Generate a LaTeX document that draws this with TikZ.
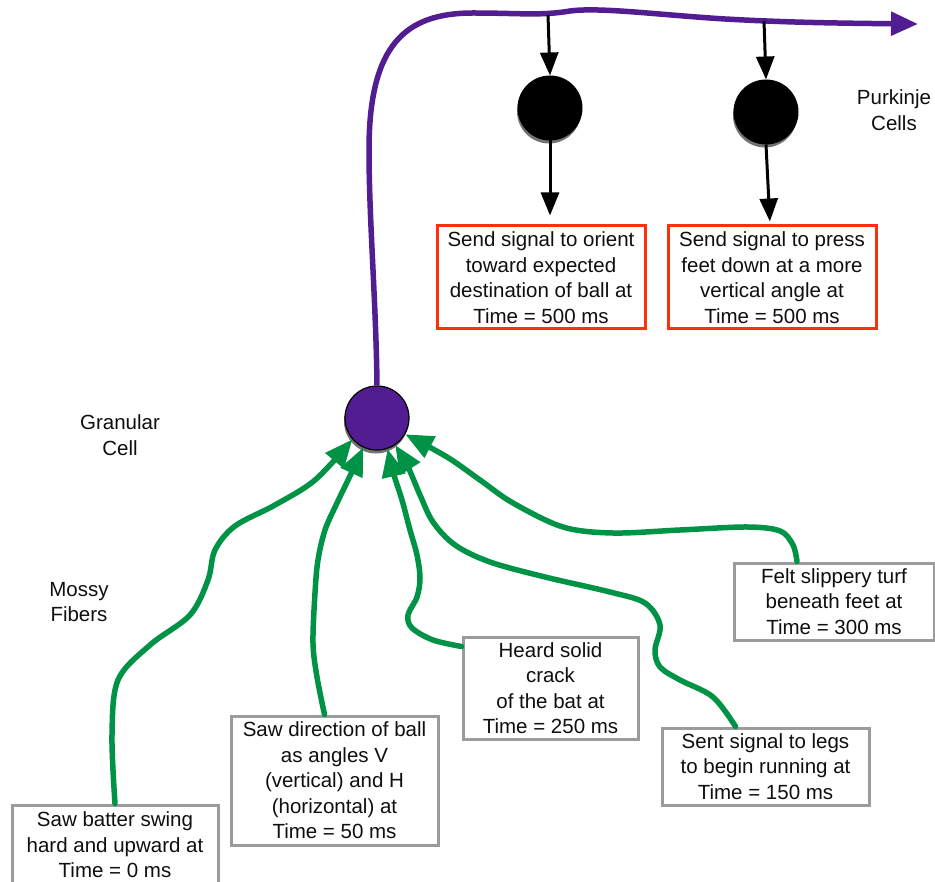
\documentclass[tikz,border=0pt]{standalone}
\usepackage{fontspec}
\setmainfont{Liberation Sans}
\usetikzlibrary{arrows.meta,shadows}
\definecolor{gcpurple}{RGB}{82,29,145}
\definecolor{mfgreen}{RGB}{0,146,69}
\definecolor{boxgray}{RGB}{155,155,155}
\definecolor{boxred}{RGB}{252,48,12}
\definecolor{inkc}{RGB}{15,15,15}
\begin{document}
\begin{tikzpicture}[x=1pt,y=-1pt,
  every node/.style={font=\fontsize{20.5}{25.5}\selectfont, text=inkc},
  evbox/.style={draw=boxgray, line width=3pt, fill=white, align=center, inner sep=0pt},
  outbox/.style={draw=boxred, line width=3pt, fill=white, align=center, inner sep=0pt, minimum width=208pt, minimum height=103pt},
  lbl/.style={align=center, inner sep=0pt},
  cellshadow/.style={drop shadow={shadow xshift=-1pt, shadow yshift=-3.5pt, fill=black, opacity=0.55}},
  gcell/.style={circle, fill=gcpurple, draw=black, line width=1.2pt, minimum size=64pt, inner sep=0pt, cellshadow},
  pcell/.style={circle, fill=black, draw=black, line width=1pt, minimum size=64pt, inner sep=0pt, cellshadow},
  fiber/.style={draw=mfgreen, line width=5.5pt, line cap=round, line join=round, -{Triangle[length=28pt,width=23pt]}},
  parallel/.style={draw=gcpurple, line width=5.5pt, line join=round, -{Triangle[length=27pt,width=23pt]}},
  sig/.style={draw=black, line width=3pt, -{Triangle[length=23pt,width=18pt]}}]
\useasboundingbox (0,0) rectangle (935,882);

% cells
\node[gcell] (gc) at (377,418) {};
\node[pcell] (pc1) at (550,108) {};
\node[pcell] (pc2) at (766,112) {};

% labels
\node[lbl] (lpk) at (894,110) {Purkinje\\Cells};
\node[lbl] (lgc) at (120,435) {Granular\\Cell};
\node[lbl] (lmf) at (79,602) {Mossy\\Fibers};

% output boxes
\node[outbox] (r1) at (541,277.5) {Send signal to orient\\toward expected\\destination of ball at\\Time = 500 ms};
\node[outbox] (r2) at (772,277.5) {Send signal to press\\feet down at a more\\vertical angle at\\Time = 500 ms};

% event boxes
\node[evbox, minimum width=206pt, minimum height=80pt] (bA) at (115,845) {Saw batter swing\\hard and upward at\\Time = 0 ms};
\node[evbox, minimum width=207pt, minimum height=129pt] (bB) at (334.5,780.5) {Saw direction of ball\\as angles V\\(vertical) and H\\(horizontal) at\\Time = 50 ms};
\node[evbox, minimum width=175pt, minimum height=102pt] (bC) at (550.5,688) {Heard solid\\crack\\of the bat at\\Time = 250 ms};
\node[evbox, minimum width=207pt, minimum height=77pt] (bD) at (765.5,766.5) {Sent signal to legs\\to begin running at\\Time = 150 ms};
\node[evbox, minimum width=200pt, minimum height=77pt] (bE) at (834,601.5) {Felt slippery turf\\beneath feet at\\Time = 300 ms};

% parallel fiber
\coordinate (pfend) at (918,24);
\draw[parallel] (gc.north) .. controls (376,300) and (369,220) .. (369,150)
  .. controls (369,45) and (405,13) .. (473,13)
  .. controls (520,13) and (540,16) .. (570,11)
  .. controls (600,7) and (660,15) .. (725,19)
  .. controls (780,22) and (820,23) .. (pfend);

% purkinje input / output
\coordinate (t1) at (548,15);
\coordinate (t2) at (764,21);
\draw[sig] (t1) -- (pc1.north);
\draw[sig] (t2) -- (pc2.north);
\draw[sig, shorten >=9pt] (pc1.south) -- (pc1.south |- r1.north);
\draw[sig, shorten >=3pt] (pc2.south) -- ([xshift=-2pt]r2.north);

% mossy fibers
\draw[fiber] plot[smooth, tension=0.55] coordinates {(bA.north) (112,735) (118,680) (150,645) (190,615) (208,580) (215,550) (235,526) (275,505) (315,480) (gc.221)};
\draw[fiber] plot[smooth, tension=0.55] coordinates {([xshift=-10pt]bB.north) (317,677) (313,643) (315,593) (318,560) (325,530) (337,503) (350,476) (gc.245)};
\draw[fiber] plot[smooth, tension=0.55] coordinates {([yshift=-11pt]bC.north west) (433,640) (412,628) (408,615) (417,597) (420,578) (417,555) (410,530) (402,500) (394,475) (gc.289)};
\draw[fiber] plot[smooth, tension=0.55] coordinates {([xshift=-30pt]bD.north) (713,697) (680,680) (660,667) (655,650) (660,625) (645,603) (610,592) (545,577) (490,562) (455,545) (433,522) (420,495) (408,467) (gc.304)};
\draw[fiber] plot[smooth, tension=0.55] coordinates {([xshift=-37pt]bE.north) (793,545) (780,531) (747,527) (680,530) (613,533) (563,527) (513,503) (480,480) (447,457) (gc.330)};
\end{tikzpicture}
\end{document}
